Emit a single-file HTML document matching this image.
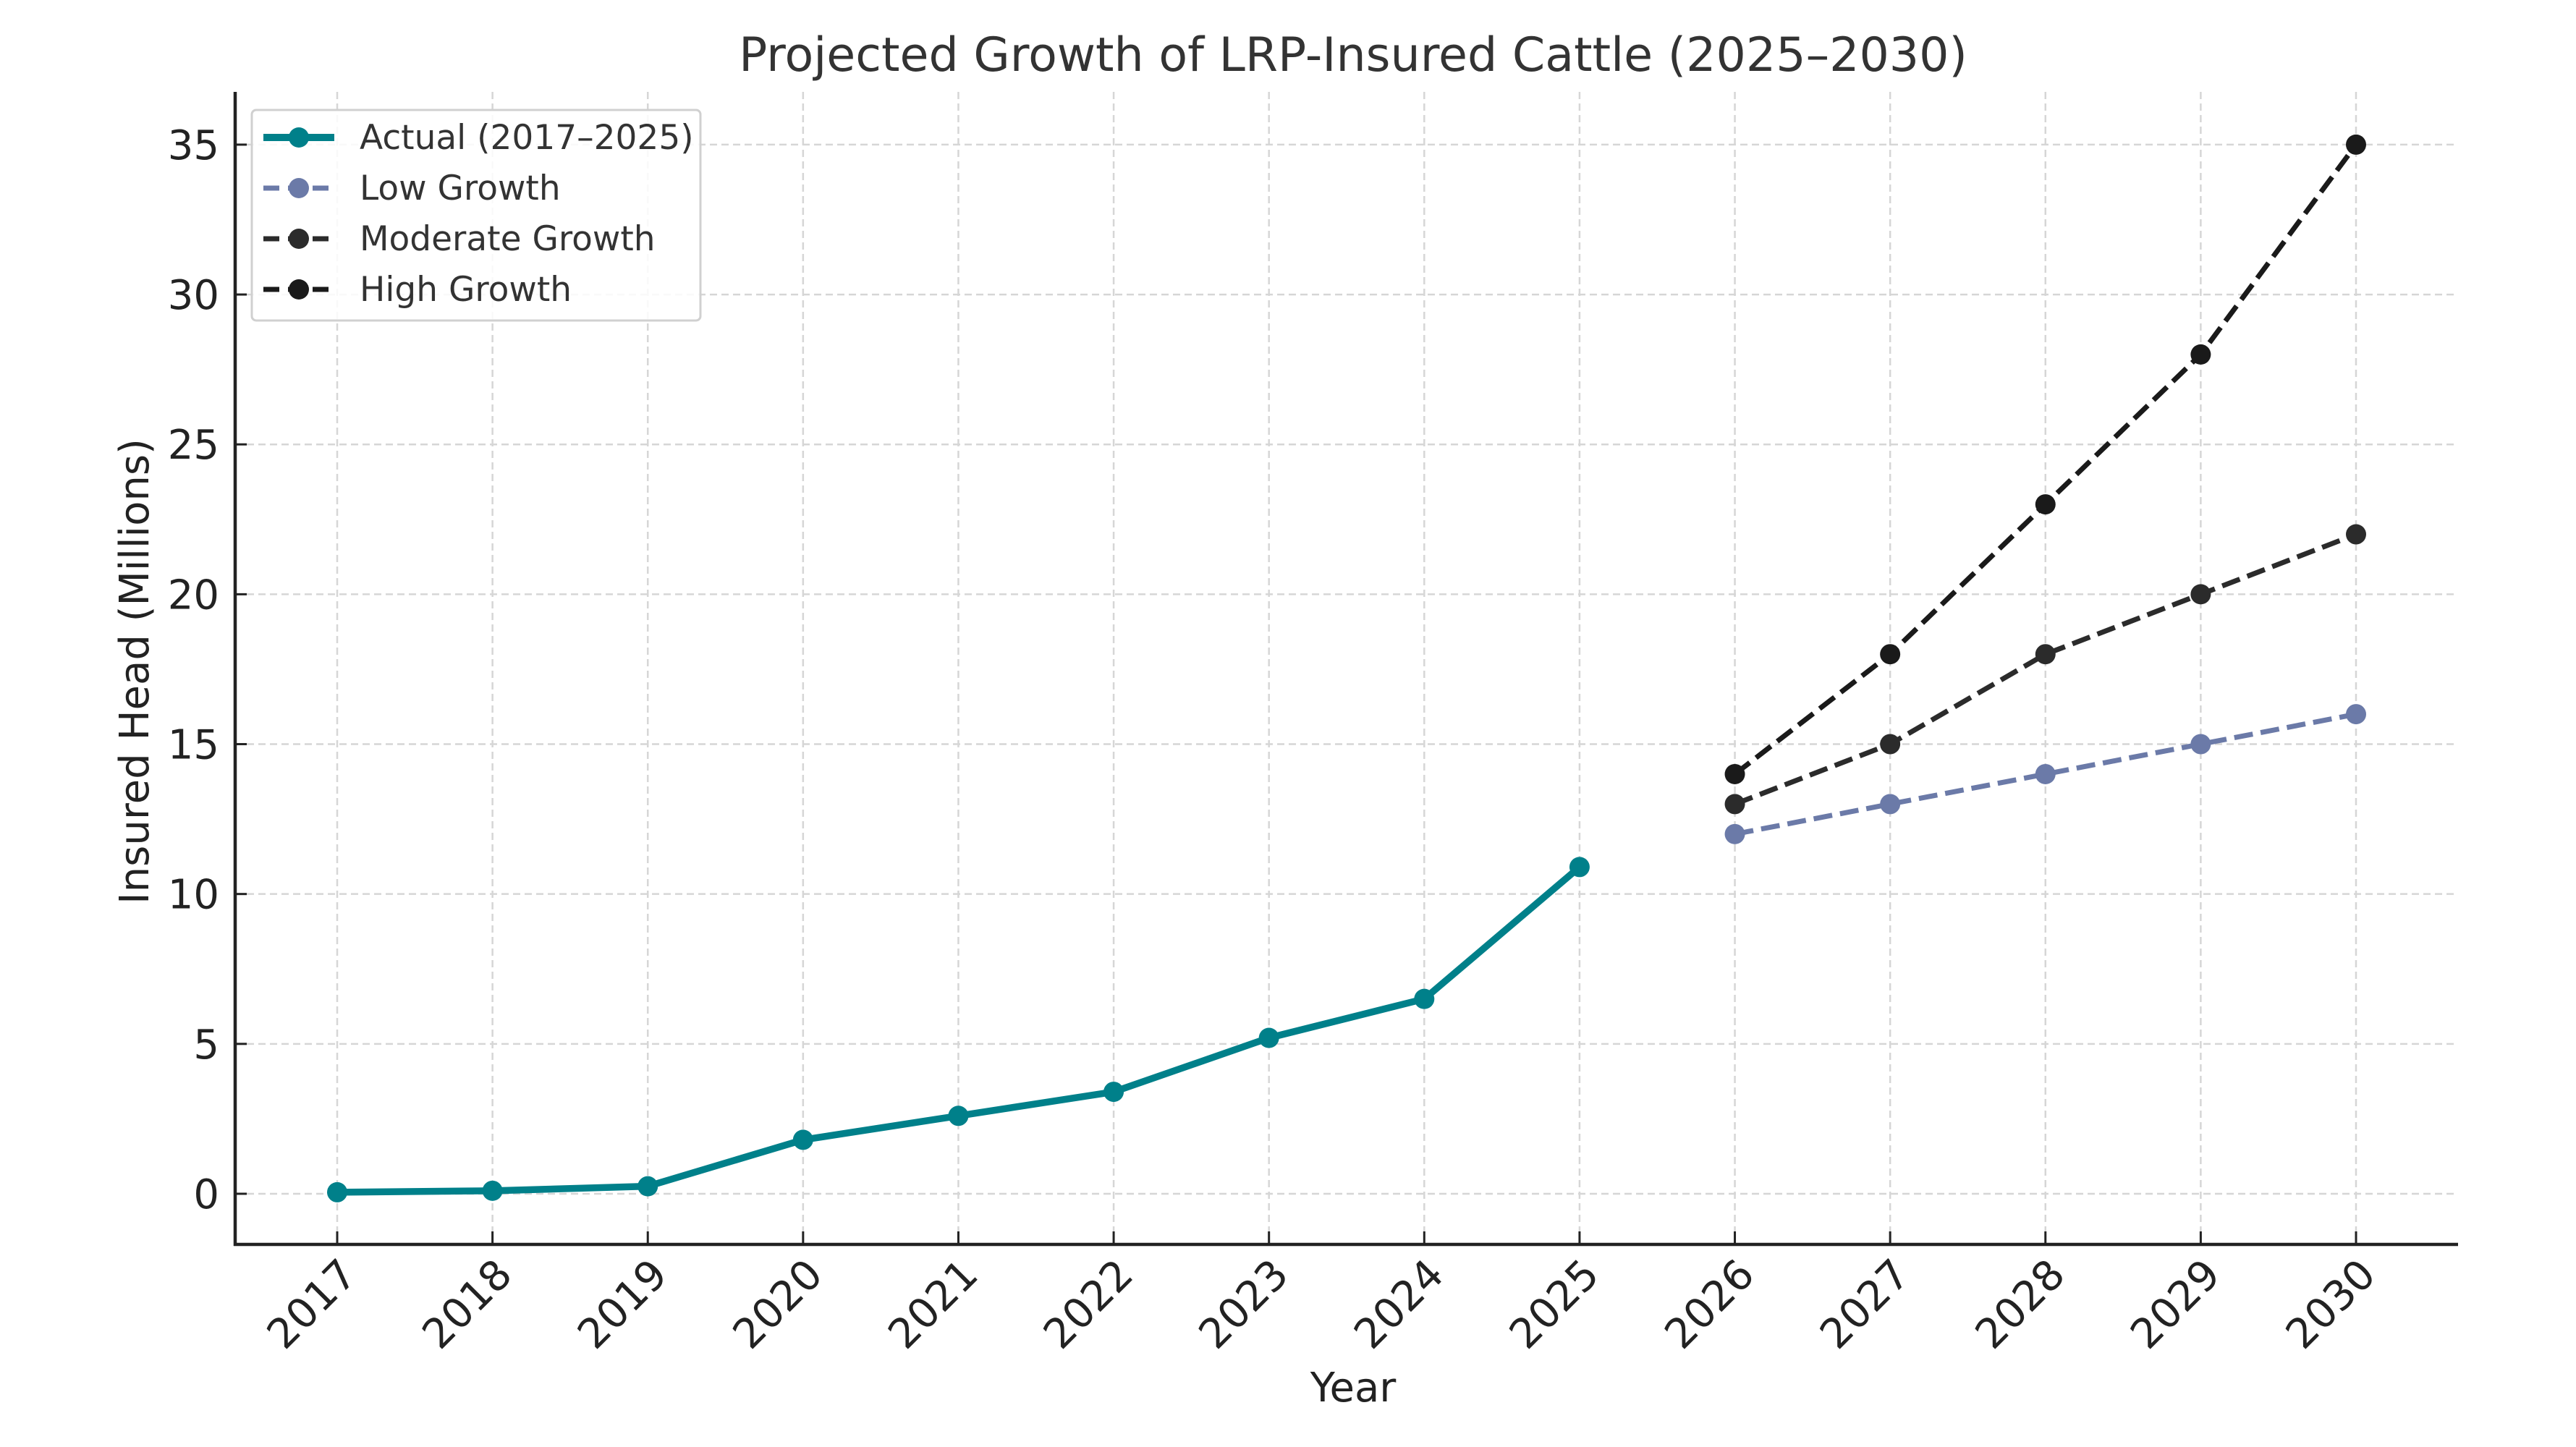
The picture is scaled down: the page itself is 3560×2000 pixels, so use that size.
<!DOCTYPE html>
<html><head><meta charset="utf-8"><style>
html,body{margin:0;padding:0;background:#fff}
svg{display:block;font-family:"DejaVu Sans","Liberation Sans",sans-serif}
</style></head><body>
<svg id="chart" width="3560" height="2000" viewBox="0 0 3560 2000" xmlns="http://www.w3.org/2000/svg">
<rect width="3560" height="2000" fill="#fff"/>
<text x="1870" y="98" font-size="65" fill="#333" text-anchor="middle">Projected Growth of LRP-Insured Cattle (2025–2030)</text>
<g id="grid"></g>
<g id="axes"></g>
<g id="series"></g>
<text x="1870" y="1937" font-size="56" fill="#222" text-anchor="middle">Year</text>
<text transform="translate(205,928) rotate(-90)" font-size="56" fill="#222" text-anchor="middle">Insured Head (Millions)</text>
<g id="legend"></g>
</svg>
<script>
const years = [2017,2018,2019,2020,2021,2022,2023,2024,2025,2026,2027,2028,2029,2030];
const actualYears = [2017,2018,2019,2020,2021,2022,2023,2024,2025];
const actualValues = [0.05,0.1,0.25,1.8,2.6,3.4,5.2,6.5,10.9];
const projYears = [2026,2027,2028,2029,2030];
const lowValues = [12,13,14,15,16];
const moderateValues = [13,15,18,20,22];
const highValues = [14,18,23,28,35];
const yTicks = [0,5,10,15,20,25,30,35];

const NS='http://www.w3.org/2000/svg';
const L=325,R=3397,T=127,B=1720;
const xmin=2016.343,xmax=2030.657,ymin=-1.69,ymax=36.76;
const X=v=>L+(v-xmin)/(xmax-xmin)*(R-L);
const Y=v=>B-(v-ymin)/(ymax-ymin)*(B-T);
function mk(tag,attrs,parent){const e=document.createElementNS(NS,tag);for(const k in attrs)e.setAttribute(k,attrs[k]);parent.appendChild(e);return e;}
const grid=document.getElementById('grid'),axes=document.getElementById('axes'),series=document.getElementById('series'),legend=document.getElementById('legend');

years.forEach(yr=>{
  const g=mk('line',{x1:X(yr),x2:X(yr),y1:T,y2:B,stroke:'#d6d6d6','stroke-width':2.5,'stroke-dasharray':'10,6'},grid);
  
  
  const t=mk('line',{x1:X(yr),x2:X(yr),y1:B-18,y2:B,stroke:'#222','stroke-width':3},axes);
  
  
  const lb=mk('text',{transform:`translate(${X(yr)+30},${B+45}) rotate(-45)`,'font-size':57,fill:'#222','text-anchor':'end'},axes);
  lb.textContent=yr;
  
  
});
yTicks.forEach(v=>{
  const g=mk('line',{x1:L,x2:R,y1:Y(v),y2:Y(v),stroke:'#d6d6d6','stroke-width':2.5,'stroke-dasharray':'10,6'},grid);
  
  
  const t=mk('line',{x1:L,x2:L+16,y1:Y(v),y2:Y(v),stroke:'#222','stroke-width':3},axes);
  
  
  const lb=mk('text',{x:L-22,y:Y(v)+20,'font-size':56,fill:'#222','text-anchor':'end'},axes);
  lb.textContent=v;
  
  
});
const sl=mk('line',{x1:L,x2:L,y1:T,y2:B+2,stroke:'#222','stroke-width':4.5},axes);


const sb=mk('line',{x1:L-2,x2:R,y1:B,y2:B,stroke:'#222','stroke-width':4.5},axes);



function drawSeries(xs,vs,color,lw,dash,r,name){
  const g=mk('g',{},series);
  
  
  const pts=xs.map((x,i)=>X(x)+','+Y(vs[i])).join(' ');
  const a={points:pts,fill:'none',stroke:color,'stroke-width':lw,'stroke-linejoin':'round'};
  if(dash)a['stroke-dasharray']=dash;
  const pl=mk('polyline',a,g);
  
  
  xs.forEach((x,i)=>{
    const c=mk('circle',{cx:X(x),cy:Y(vs[i]),r:r,fill:color},g);
    
    
  });
}
drawSeries(projYears,lowValues,'#6b7aa8',7,'26,11',14,'low-growth-series');
drawSeries(projYears,moderateValues,'#2b2b2b',7,'26,11',14,'moderate-growth-series');
drawSeries(projYears,highValues,'#1a1a1a',7,'26,11',14,'high-growth-series');
drawSeries(actualYears,actualValues,'#00808a',9.5,null,14,'actual-series');

const lb=mk('rect',{x:348,y:152,width:620,height:291,rx:6,fill:'#fff','fill-opacity':0.85,stroke:'#d0d0d0','stroke-width':3},legend);


const entries=[['Actual (2017–2025)','#00808a',10,null],['Low Growth','#6b7aa8',7,'22,12'],['Moderate Growth','#2b2b2b',7,'22,12'],['High Growth','#1a1a1a',7,'22,12']];
entries.forEach((e,i)=>{
  const y=190+i*70;
  const g=mk('g',{},legend);
  
  
  const a={x1:364,x2:462,y1:y,y2:y,stroke:e[1],'stroke-width':e[2]};
  if(e[3])a['stroke-dasharray']=e[3];
  const ln=mk('line',a,g);
  
  
  const c=mk('circle',{cx:413,cy:y,r:14,fill:e[1]},g);
  
  
  const t=mk('text',{x:497,y:y+16,'font-size':47,fill:'#333'},g);
  t.textContent=e[0];
  
  
});
</script>
</body></html>
